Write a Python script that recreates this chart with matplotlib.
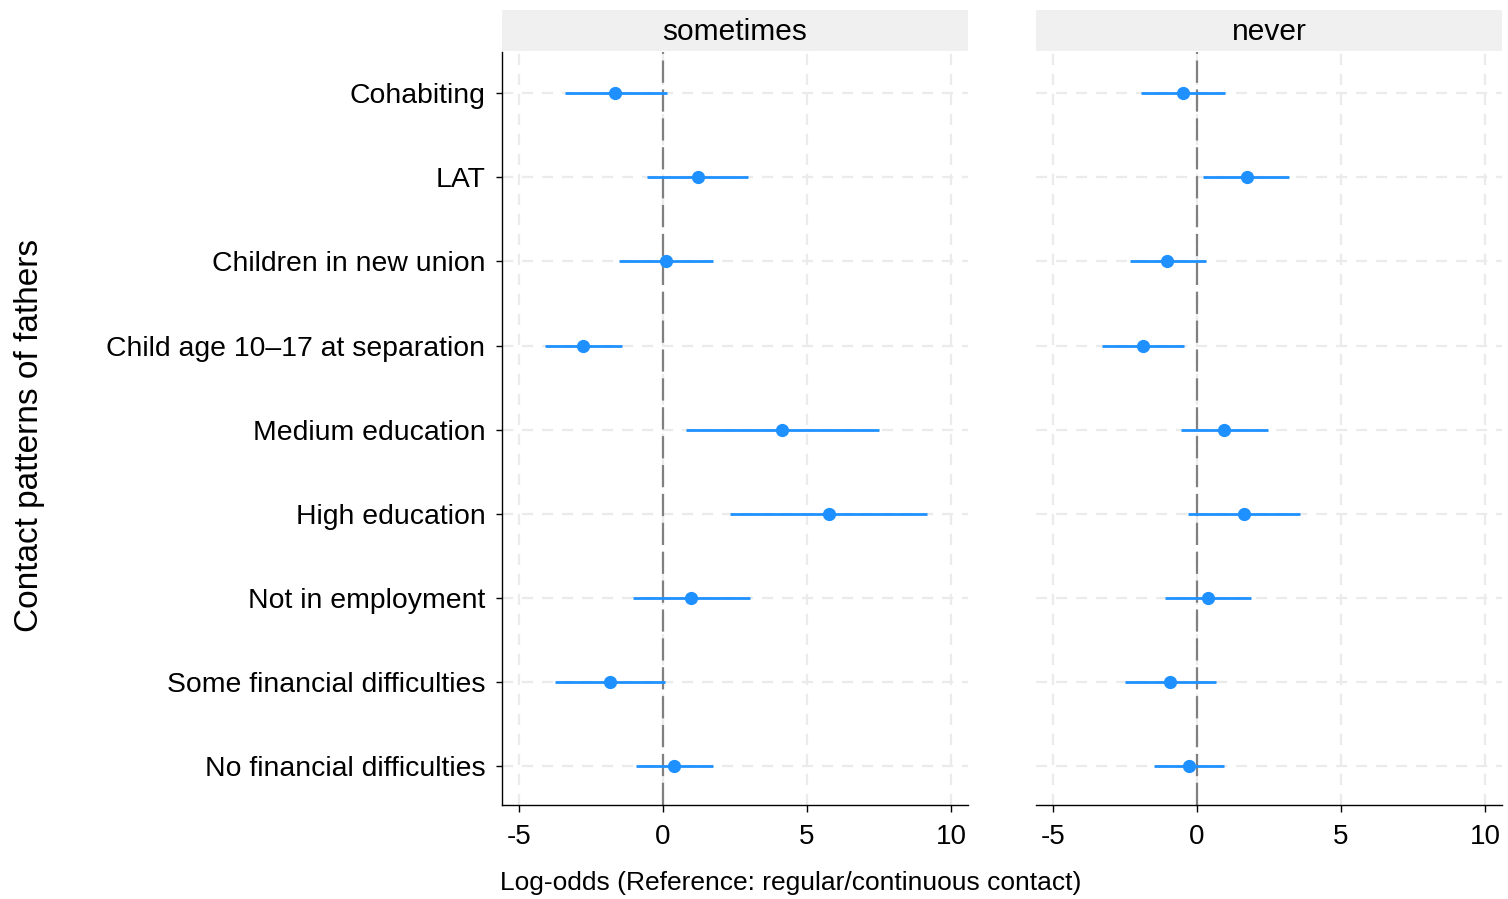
import numpy as np
import matplotlib
matplotlib.use('Agg')
import matplotlib.pyplot as plt

plt.rcParams['font.family'] = ['Liberation Sans', 'DejaVu Sans']

# categories from top to bottom
terms = ['Cohabiting', 'LAT', 'Children in new union', 'Child age 10\u201317 at separation',
         'Medium education', 'High education', 'Not in employment',
         'Some financial difficulties', 'No financial difficulties']
panels = ['sometimes', 'never']

# sometimes: estimate, lower, upper
est_some = [-1.67, 1.22, 0.10, -2.77, 4.14, 5.75, 0.97, -1.84, 0.38]
low_some = [-3.40, -0.55, -1.53, -4.10, 0.80, 2.33, -1.03, -3.75, -0.94]
upp_some = [0.13, 2.96, 1.74, -1.43, 7.49, 9.18, 3.01, 0.07, 1.72]

# never: estimate, lower, upper
est_never = [-0.49, 1.72, -1.04, -1.89, 0.95, 1.62, 0.39, -0.93, -0.29]
low_never = [-1.94, 0.22, -2.33, -3.31, -0.54, -0.32, -1.10, -2.50, -1.49]
upp_never = [0.97, 3.21, 0.30, -0.45, 2.47, 3.58, 1.86, 0.66, 0.93]

xticks = [-5, 0, 5, 10]

W, H = 1508, 899
fig = plt.figure(figsize=(W / 100, H / 100), dpi=100)

blue = '#1e90ff'
grid_col = '#ebebeb'
ypos = np.arange(len(terms))[::-1] + 1

data = [(est_some, low_some, upp_some), (est_never, low_never, upp_never)]
lefts = [502, 1036]
for i, (name, (est, low, upp)) in enumerate(zip(panels, data)):
    x0 = lefts[i]
    ax = fig.add_axes([x0 / W, (H - 805) / H, 466 / W, 753 / H])
    # strip
    sax = fig.add_axes([x0 / W, (H - 51) / H, 466 / W, 41 / H])
    sax.set_facecolor('#f0f0f0')
    sax.set_xticks([])
    sax.set_yticks([])
    for s in sax.spines.values():
        s.set_visible(False)
    sax.text(0.5, 0.47, name, ha='center', va='center', fontsize=21.5,
             transform=sax.transAxes)

    ax.set_xlim(-5.59, 10.59)
    ax.set_ylim(0.54, 9.49)
    for xv in xticks:
        ax.axvline(xv, color=grid_col, lw=1.6, dashes=(5, 4), zorder=0)
    for yv in ypos:
        ax.axhline(yv, color=grid_col, lw=1.6, dashes=(5, 4), zorder=0)
    ax.axvline(0, color='#808080', lw=1.6, dashes=(10, 3), zorder=1)

    ax.hlines(ypos, low, upp, color=blue, lw=2.0, zorder=2)
    ax.plot(est, ypos, 'o', color=blue, ms=8.5, zorder=3)

    ax.set_xticks(xticks)
    ax.set_xticklabels([str(v) for v in xticks], fontsize=20)
    ax.tick_params(axis='x', length=5, width=1, colors='black', pad=9)
    ax.spines['top'].set_visible(False)
    ax.spines['right'].set_visible(False)
    ax.spines['bottom'].set_linewidth(1.0)
    if i == 0:
        ax.set_yticks(ypos)
        ax.set_yticklabels(terms, fontsize=20.4)
        ax.tick_params(axis='y', length=4, width=1, pad=8)
        ax.spines['left'].set_linewidth(1.0)
    else:
        ax.set_yticks([])
        ax.spines['left'].set_visible(False)

fig.text(500 / W, 1 - 883 / H, 'Log-odds (Reference: regular/continuous contact)',
         ha='left', va='center', fontsize=19)
fig.text(30 / W, 1 - 435 / H, 'Contact patterns of fathers', rotation=90,
         ha='center', va='center', fontsize=24)

fig.savefig('out.png', dpi=100)
